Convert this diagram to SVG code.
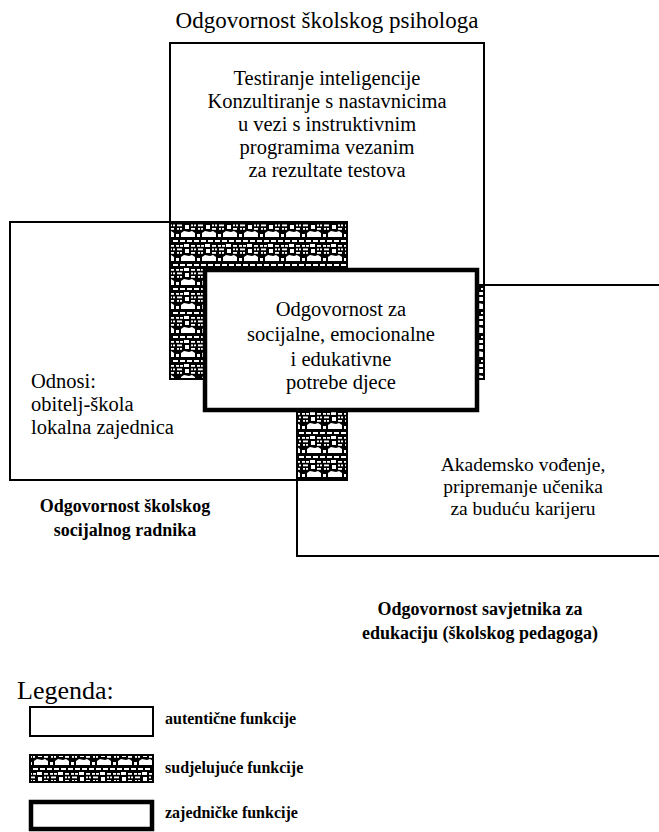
<svg xmlns="http://www.w3.org/2000/svg" width="659" height="832" viewBox="0 0 659 832">
<defs>
<pattern id="weave" width="21" height="24" patternUnits="userSpaceOnUse">
<rect width="21" height="24" fill="#000"/>
<g fill="#fff">
<rect x="0" y="0" width="3" height="2"/>
<rect x="5" y="0" width="5" height="2"/>
<rect x="12" y="0" width="5" height="2"/>
<rect x="19" y="0" width="2" height="2"/>
<rect x="2" y="5" width="4" height="1.8"/>
<rect x="8" y="5" width="3" height="1.8"/>
<rect x="12" y="5" width="3" height="1.8"/>
<rect x="2" y="8.5" width="2" height="1.8"/>
<rect x="5" y="8.5" width="2" height="1.8"/>
<rect x="9" y="8.5" width="5" height="1.8"/>
<rect x="2" y="12" width="4" height="1.8"/>
<rect x="9" y="12" width="2" height="1.8"/>
<rect x="12" y="12" width="2" height="1.8"/>
<rect x="16" y="4" width="5" height="3"/>
<rect x="17" y="9" width="4" height="4"/>
<polygon points="0,16 3,15 6,17 6,21 0,21"/>
<rect x="8" y="18" width="3" height="3"/>
<polygon points="13,17 16,15 21,16 21,21 13,21"/>
</g>
</pattern>
<style>
.box{fill:none;stroke:#000;stroke-width:2}
.shared{fill:url(#weave);stroke:#000;stroke-width:2}
.joint{fill:#fff;stroke:#000;stroke-width:4.5}
.t{font-family:"Liberation Serif","Times New Roman",serif;font-size:20.5px;fill:#000;text-anchor:middle}
.t2{font-family:"Liberation Serif","Times New Roman",serif;font-size:19.5px;fill:#000;text-anchor:middle}
.title{font-family:"Liberation Serif","Times New Roman",serif;font-size:23px;fill:#000;text-anchor:middle}
.tl{font-family:"Liberation Serif","Times New Roman",serif;font-size:20.5px;fill:#000}
.leg{font-family:"Liberation Serif","Times New Roman",serif;font-size:26px;fill:#000}
.b{font-family:"Liberation Serif","Times New Roman",serif;font-size:18px;font-weight:bold;fill:#000;text-anchor:middle}
.lb{font-family:"Liberation Serif","Times New Roman",serif;font-size:16px;font-weight:bold;fill:#000}
</style>
</defs>
<rect width="659" height="832" fill="#fff"/>

<g id="psiholog">
<rect class="box" x="170" y="43" width="314" height="336"/>
<text class="title" x="327" y="28">Odgovornost školskog psihologa</text>
<text class="t" x="327" y="85">Testiranje inteligencije</text>
<text class="t" x="327" y="108">Konzultiranje s nastavnicima</text>
<text class="t" x="327" y="131">u vezi s instruktivnim</text>
<text class="t" x="327" y="154">programima vezanim</text>
<text class="t" x="327" y="177">za rezultate testova</text>
</g>

<g id="socijalni-radnik">
<rect class="box" x="10" y="222" width="337" height="258"/>
<text class="tl" x="31" y="388">Odnosi:</text>
<text class="tl" x="31" y="411">obitelj-škola</text>
<text class="tl" x="31" y="434">lokalna zajednica</text>
<text class="b" x="125" y="512">Odgovornost školskog</text>
<text class="b" x="125" y="536">socijalnog radnika</text>
</g>

<g id="pedagog">
<rect class="box" x="297" y="285" width="380" height="271"/>
<text class="t2" x="523" y="471">Akademsko vođenje,</text>
<text class="t2" x="523" y="493">pripremanje učenika</text>
<text class="t2" x="523" y="515">za buduću karijeru</text>
<text class="b" x="480" y="615">Odgovornost savjetnika za</text>
<text class="b" x="480" y="639">edukaciju (školskog pedagoga)</text>
</g>

<g id="sudjelujuce">
<rect class="shared" x="170" y="222" width="177" height="157"/>
<rect class="shared" x="297" y="285" width="187" height="94"/>
<rect class="shared" x="297" y="285" width="50" height="195"/>
</g>

<g id="zajednicke">
<rect class="joint" x="205" y="270" width="272" height="140"/>
<text class="t" x="341" y="316">Odgovornost za</text>
<text class="t" x="341" y="341">socijalne, emocionalne</text>
<text class="t" x="341" y="366">i edukativne</text>
<text class="t" x="341" y="389">potrebe djece</text>
</g>

<g id="connectors"></g>

<g id="legenda">
<text class="leg" x="17" y="699">Legenda:</text>
<rect class="box" x="30" y="707" width="123" height="29"/>
<text class="lb" x="165" y="724">autentične funkcije</text>
<rect class="shared" x="30" y="755" width="123" height="27"/>
<text class="lb" x="165" y="773">sudjelujuće funkcije</text>
<rect class="joint" x="31" y="802" width="121" height="27"/>
<text class="lb" x="165" y="818">zajedničke funkcije</text>
</g>
</svg>
